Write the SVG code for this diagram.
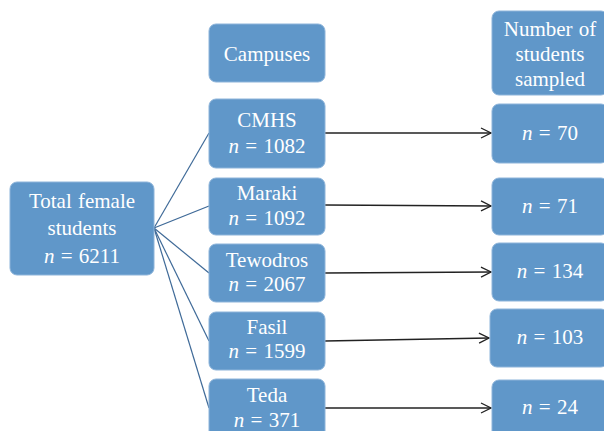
<svg xmlns="http://www.w3.org/2000/svg" width="604" height="431" viewBox="0 0 604 431">
<defs>
<style>
.box{fill:#6097c9;stroke:#8db4da;stroke-width:1}
.t{font-family:"Liberation Serif","Times New Roman",serif;font-size:21px;fill:#ffffff;text-anchor:middle;word-spacing:1px}
.i{font-style:italic}
.fan{stroke:#3f6a98;stroke-width:1.2;fill:none}
.arr{stroke:#222222;stroke-width:1.5;fill:none;marker-end:url(#ah)}
</style>
<marker id="ah" viewBox="0 0 12 12" refX="11" refY="6" markerWidth="12" markerHeight="12" markerUnits="userSpaceOnUse" orient="auto">
<path d="M1,1 L11,6 L1,11" fill="none" stroke="#222222" stroke-width="1.3"/>
</marker>
</defs>
<rect width="604" height="431" fill="#ffffff"/>
<g id="connectors">
<line class="fan" x1="154" y1="228" x2="209" y2="133"/>
<line class="fan" x1="154" y1="228" x2="209" y2="206"/>
<line class="fan" x1="154" y1="228" x2="209" y2="273"/>
<line class="fan" x1="154" y1="228" x2="209" y2="341"/>
<line class="fan" x1="154" y1="228" x2="209" y2="408"/>
<line class="arr" x1="325" y1="133" x2="491" y2="133"/>
<line class="arr" x1="325" y1="205" x2="491" y2="206"/>
<line class="arr" x1="325" y1="273" x2="491" y2="272"/>
<line class="arr" x1="325" y1="341" x2="489" y2="338"/>
<line class="arr" x1="325" y1="408" x2="491" y2="408"/>
</g>
<g id="total">
<rect class="box" x="10" y="182" width="144" height="93" rx="7"/>
<text class="t" x="82" y="208">Total female</text>
<text class="t" x="82" y="235">students</text>
<text class="t" x="82" y="263"><tspan class="i">n</tspan> = 6211</text>
</g>
<g id="campuses">
<rect class="box" x="209" y="24" width="116" height="58" rx="7"/>
<text class="t" x="267" y="61">Campuses</text>
</g>
<g id="cmhs">
<rect class="box" x="209" y="99" width="116" height="69" rx="7"/>
<text class="t" x="267" y="127">CMHS</text>
<text class="t" x="267" y="153"><tspan class="i">n</tspan> = 1082</text>
</g>
<g id="maraki">
<rect class="box" x="209" y="178" width="116" height="57" rx="7"/>
<text class="t" x="267" y="200">Maraki</text>
<text class="t" x="267" y="225"><tspan class="i">n</tspan> = 1092</text>
</g>
<g id="tewodros">
<rect class="box" x="209" y="244" width="116" height="58" rx="7"/>
<text class="t" x="267" y="267">Tewodros</text>
<text class="t" x="267" y="291"><tspan class="i">n</tspan> = 2067</text>
</g>
<g id="fasil">
<rect class="box" x="209" y="312" width="116" height="58" rx="7"/>
<text class="t" x="267" y="334">Fasil</text>
<text class="t" x="267" y="358"><tspan class="i">n</tspan> = 1599</text>
</g>
<g id="teda">
<rect class="box" x="209" y="379" width="116" height="60" rx="7"/>
<text class="t" x="267" y="402">Teda</text>
<text class="t" x="267" y="427"><tspan class="i">n</tspan> = 371</text>
</g>
<g id="sampled">
<rect class="box" x="492" y="11" width="116" height="84" rx="7"/>
<text class="t" x="550" y="36">Number of</text>
<text class="t" x="550" y="61">students</text>
<text class="t" x="550" y="86">sampled</text>
</g>
<g id="s70">
<rect class="box" x="492" y="104" width="116" height="59" rx="7"/>
<text class="t" x="550" y="140"><tspan class="i">n</tspan> = 70</text>
</g>
<g id="s71">
<rect class="box" x="492" y="178" width="116" height="57" rx="7"/>
<text class="t" x="550" y="213"><tspan class="i">n</tspan> = 71</text>
</g>
<g id="s134">
<rect class="box" x="492" y="243" width="116" height="58" rx="7"/>
<text class="t" x="550" y="278"><tspan class="i">n</tspan> = 134</text>
</g>
<g id="s103">
<rect class="box" x="490" y="309" width="118" height="58" rx="7"/>
<text class="t" x="550" y="344"><tspan class="i">n</tspan> = 103</text>
</g>
<g id="s24">
<rect class="box" x="492" y="380" width="116" height="60" rx="7"/>
<text class="t" x="550" y="414"><tspan class="i">n</tspan> = 24</text>
</g>
</svg>
